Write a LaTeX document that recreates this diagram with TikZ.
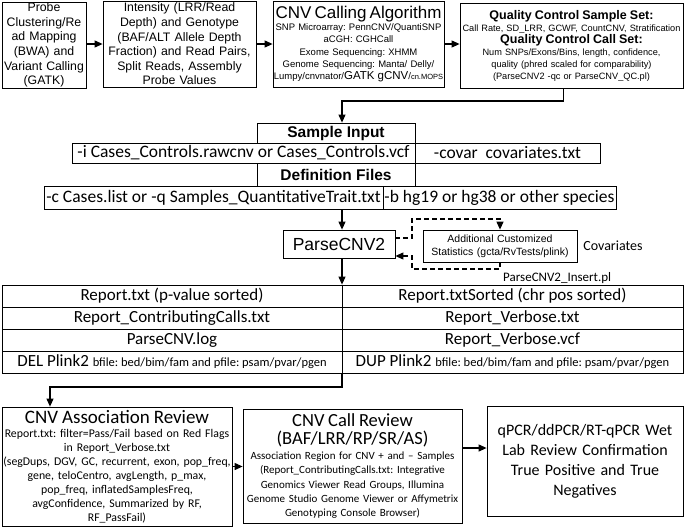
\documentclass[tikz,border=0pt]{standalone}
\usepackage{fontspec}
\setmainfont{Liberation Sans}
\newfontfamily\calfont{Carlito}
\usetikzlibrary{arrows.meta, positioning}
\newcommand{\fsz}[2]{\fontsize{#1}{#2}\selectfont}
\frenchspacing

\begin{document}
\begin{tikzpicture}[x=1pt, y=-1pt,
  box/.style={draw, line width=0.8pt, inner sep=0pt, align=center},
  cellL/.style={draw, line width=0.8pt, inner sep=0pt, minimum width=340pt, minimum height=22pt, font=\calfont\fsz{17}{20}},
  cellR/.style={cellL, minimum width=341pt},
  inrow/.style={box, minimum height=20pt, font=\calfont\fsz{17.5}{20}},
  arr/.style={line width=1.1pt, -{Triangle[length=8pt, width=7pt]}},
  dsh/.style={line width=1.1pt, dash pattern=on 5pt off 3pt}]

\useasboundingbox (0,0) rectangle (685,528);

% top row
\node[box, text width=84pt, minimum height=86pt, font=\fsz{12.3}{14.6}] (mapping) at (44,45)
  {Probe\\ Clustering/Re\\ ad Mapping\\ (BWA) and\\ Variant Calling\\ (GATK)};
\node[box, text width=153pt, minimum height=86pt, font=\fsz{12.3}{14.6}] (signal) at (179.5,44)
  {Intensity (LRR/Read\\ Depth) and Genotype\\ (BAF/ALT Allele Depth\\ Fraction) and Read Pairs,\\ Split Reads, Assembly\\ Probe Values};
\node[box, text width=171pt, minimum height=86pt, font=\fsz{9.5}{12.3}] (algo) at (358.5,44)
  {{\fsz{17}{20}CNV Calling Algorithm}\\ SNP Microarray: PennCNV/QuantiSNP\\ aCGH: CGHCall\\ Exome Sequencing: XHMM\\
   Genome Sequencing: Manta/ Delly/\\ Lumpy/cnvnator/{\fsz{11.5}{12}GATK gCNV}/{\fsz{7.5}{9}cn.MOPS}};
\node[box, text width=223pt, minimum height=85pt, font=\fsz{9.2}{12}] (qc) at (571.5,45.5)
  {{\bfseries\fsz{12.5}{14}Quality Control Sample Set:}\\ Call Rate, SD\_LRR, GCWF, CountCNV, Stratification\\
   {\bfseries\fsz{12.5}{14}Quality Control Call Set:}\\ Num SNPs/Exons/Bins, length, confidence,\\
   quality (phred scaled for comparability)\\ (ParseCNV2 -qc or ParseCNV\_QC.pl)};

\draw[arr] (mapping.east |- signal.east) -- (signal);
\draw[arr] (signal) -- (algo);
\draw[arr] (algo.east) -- (algo.east -| qc.west);

% inputs
\coordinate (spine) at (342,101);
\node[box, minimum width=158pt, minimum height=20pt, font=\bfseries\fsz{15.5}{18}] (sample) at (336,133) {Sample Input};
\node[inrow, minimum width=343pt] (inL) at (243.5,153) {-i Cases\_Controls.rawcnv or Cases\_Controls.vcf};
\node[inrow, minimum width=185pt] (inR) at (507.5,153) {-covar\ \ covariates.txt};
\node[box, minimum width=158pt, minimum height=23pt, font=\bfseries\fsz{15.5}{18}] (defs) at (336,174.5) {Definition Files};
\node[inrow, minimum width=339pt, minimum height=23pt] (dL) at (213.5,197.5) {-c Cases.list or -q Samples\_QuantitativeTrait.txt};
\node[inrow, minimum width=233pt, minimum height=23pt] (dR) at (499.5,197.5) {-b hg19 or hg38 or other species};

\draw[arr] ([xshift=-8pt]qc.south) |- (spine) -- (spine |- sample.north);

% ParseCNV2
\node[box, minimum width=112pt, minimum height=28pt, font=\fsz{17.5}{20}] (pc) at (339,244) {ParseCNV2};
\node[box, text width=154pt, minimum height=32pt, font=\fsz{10.5}{13}] (add) at (500,246)
  {Additional Customized\\ Statistics (gcta/RvTests/plink)};
\node[inner sep=0pt, font=\calfont\fsz{14}{16}] (cov) at (613,246) {Covariates};
\node[inner sep=0pt, anchor=west, font=\calfont\fsz{13}{15}] (ins) at (503,278) {ParseCNV2\_Insert.pl};

\draw[arr] (spine |- dL.south) -- (spine |- pc.north);
\draw[dsh, -{Triangle[length=8pt, width=7pt]}] ([yshift=6pt]pc.east) -| (412,219) -| (add.north);
\draw[dsh, -{Triangle[length=8pt, width=7pt]}] (add.south) |- (412,269) |- ([yshift=-12pt]pc.east);

% output table
\node[cellL] (r1l) at (172,296) {Report.txt (p-value sorted)};
\node[cellR] (r1r) at (512.5,296) {Report.txtSorted (chr pos sorted)};
\node[cellL] (r2l) at (172,318) {Report\_ContributingCalls.txt};
\node[cellR] (r2r) at (512.5,318) {Report\_Verbose.txt};
\node[cellL] (r3l) at (172,340) {ParseCNV.log};
\node[cellR] (r3r) at (512.5,340) {Report\_Verbose.vcf};
\node[cellL] (r4l) at (172,362) {DEL Plink2 {\fsz{12.5}{14}bfile: bed/bim/fam and pfile: psam/pvar/pgen}};
\node[cellR] (r4r) at (512.5,362) {DUP Plink2 {\fsz{12.5}{14}bfile: bed/bim/fam and pfile: psam/pvar/pgen}};

\draw[arr] (spine |- pc.south) -- (spine |- r1l.north);

% review steps
\node[box, text width=230pt, minimum height=119pt, font=\calfont\fsz{11.8}{14}] (assoc) at (117,466.5)
  {{\fsz{19}{22}CNV Association Review}\\ Report.txt: filter=Pass/Fail based on Red Flags\\ in Report\_Verbose.txt\\
   (segDups, DGV, GC, recurrent, exon, pop\_freq,\\ gene, teloCentro, avgLength, p\_max,\\
   pop\_freq, inflatedSamplesFreq,\\ avgConfidence, Summarized by RF,\\ RF\_PassFail)};
\node[box, text width=219pt, minimum height=114pt, font=\calfont\fsz{11}{14.3}] (review) at (352.5,466)
  {{\fsz{18.5}{18.3}CNV Call Review}\\[3.5pt] {\fsz{18.5}{18.3}(BAF/LRR/RP/SR/AS)}\\[1pt] Association Region for CNV + and \textendash{} Samples\\
   (Report\_ContributingCalls.txt: Integrative\\ Genomics Viewer Read Groups, Illumina\\
   Genome Studio Genome Viewer or Affymetrix\\ Genotyping Console Browser)};
\node[box, text width=196pt, minimum height=110pt, font=\calfont\fsz{16}{20}] (wetlab) at (585,461)
  {qPCR/ddPCR/RT-qPCR Wet\\ Lab Review Confirmation\\ True Positive and True\\ Negatives};

\coordinate (turn) at (50,387);
\draw[arr] (spine |- r4l.south) |- (turn) -- (turn |- assoc.north);
\draw[arr] (assoc.east) -- (assoc.east -| review.west);
\draw[arr] ([yshift=18pt]review.east) -- ([yshift=18pt]review.east -| wetlab.west);

\end{tikzpicture}
\end{document}
